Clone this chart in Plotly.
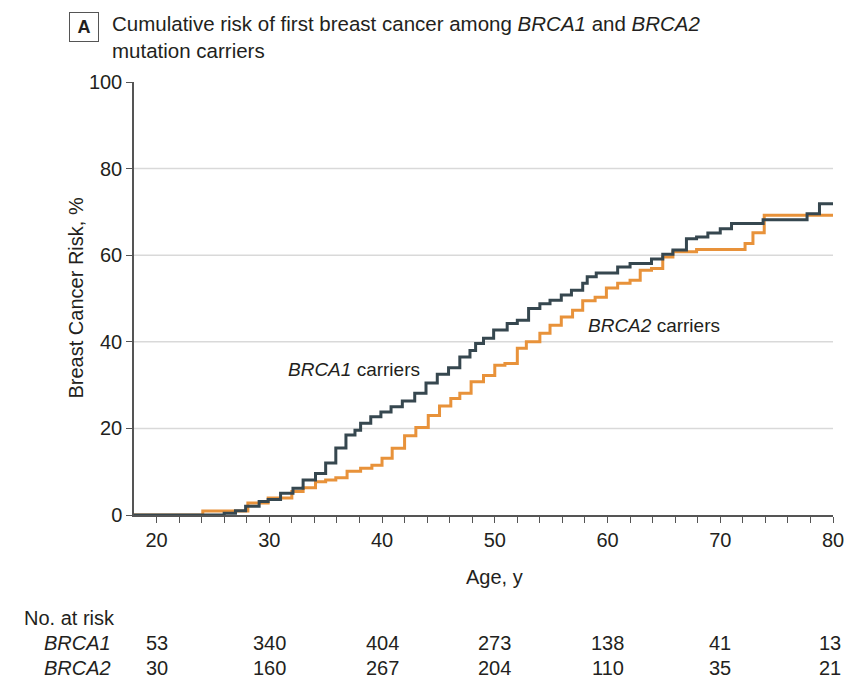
import plotly.graph_objects as go

# ---- data ----
brca1_age = [18, 26.0, 27.0, 27.9, 29.1, 29.9, 31.0, 32.1, 33.0, 34.1, 35.0, 35.9, 36.8, 37.6, 38.1,
             39.0, 39.9, 40.8, 41.8, 42.9, 43.9, 44.9, 45.9, 46.9, 47.8, 48.3, 49.0, 49.9, 51.1,
             52.0, 53.0, 54.0, 54.9, 55.9, 56.8, 57.8, 58.2, 59.0, 60.9, 62.0, 63.9, 64.9, 65.8,
             67.0, 67.9, 68.9, 70.0, 71.0, 73.8, 77.7, 78.8, 80]
brca1_risk = [0, 0.4, 1.0, 2.0, 3.1, 3.6, 5.0, 6.2, 8.1, 9.6, 12.0, 15.5, 18.5, 19.6, 21.2,
              22.7, 23.8, 25.0, 26.3, 28.1, 30.5, 32.5, 34.0, 36.5, 38.0, 39.6, 40.8, 42.7, 44.2,
              45.0, 47.7, 48.8, 49.6, 50.8, 51.9, 53.5, 55.0, 55.9, 57.3, 58.1, 59.1, 60.2, 61.2,
              63.8, 64.2, 65.1, 66.1, 67.3, 68.2, 69.6, 71.9, 71.9]

brca2_age = [18, 24.1, 28.1, 29.9, 32.0, 33.0, 34.1, 35.0, 35.9, 36.9, 38.1, 39.1, 40.0, 40.9,
             42.0, 43.0, 44.1, 45.1, 46.1, 46.9, 47.9, 49.0, 50.0, 50.9, 52.0, 52.8, 54.0, 54.9,
             55.9, 56.9, 57.8, 58.9, 59.9, 60.9, 62.0, 62.9, 63.9, 64.9, 65.8, 67.9, 72.2, 72.9,
             73.9, 80]
brca2_risk = [0, 0.9, 2.8, 3.9, 5.4, 6.3, 7.7, 8.1, 8.6, 10.1, 10.8, 11.5, 13.1, 15.4,
              18.3, 20.2, 23.0, 25.2, 26.9, 28.1, 30.8, 32.2, 34.6, 35.0, 38.5, 40.0, 42.0, 43.8,
              45.7, 47.3, 49.5, 50.3, 52.4, 53.5, 54.2, 56.5, 56.9, 59.6, 60.8, 61.3, 62.7, 65.2,
              69.2, 69.2]

risk_ages = [20, 30, 40, 50, 60, 70, 80]
brca1_at_risk = [53, 340, 404, 273, 138, 41, 13]
brca2_at_risk = [30, 160, 267, 204, 110, 35, 21]

x_tickvals = list(range(20, 81, 2))
x_ticktext = [str(v) if v % 10 == 0 else "" for v in x_tickvals]
y_tickvals = [0, 20, 40, 60, 80, 100]
grid_values = [20, 40, 60, 80]

# ---- style ----
FONT = "Liberation Sans, Arial, sans-serif"
TXT = "#231f20"
DARK = "#36474f"
ORANGE = "#e8923a"

fig = go.Figure()

for g in grid_values:
    fig.add_shape(type="line", xref="paper", yref="y", x0=0, x1=1, y0=g, y1=g,
                  line=dict(color="#d9d9d9", width=1.5), layer="below")

fig.add_trace(go.Scatter(x=brca2_age, y=brca2_risk, mode="lines", line=dict(color=ORANGE, width=3, shape="hv"),
                         name="BRCA2", showlegend=False))
fig.add_trace(go.Scatter(x=brca1_age, y=brca1_risk, mode="lines", line=dict(color=DARK, width=3, shape="hv"),
                         name="BRCA1", showlegend=False))

PW, PH, L, T0 = 699.0, 433.3, 134.0, 515.0


def px(xp):
    return (xp - L) / PW


def py(yp):
    return (T0 - yp) / PH


ann = []
# panel label + title
ann.append(dict(text="<b>A</b>", xref="paper", yref="paper", x=px(84), y=py(26.5),
                xanchor="center", yanchor="middle", showarrow=False, font=dict(size=18, color=TXT, family=FONT),
                bordercolor="#555555", borderwidth=1, borderpad=3, bgcolor="white", width=22, height=22))
ann.append(dict(text="Cumulative risk of first breast cancer among <i>BRCA1</i> and <i>BRCA2</i><br>mutation carriers",
                xref="paper", yref="paper", x=px(110), y=py(37), xanchor="left",
                yanchor="middle", align="left", showarrow=False, font=dict(size=20.5, color=TXT, family=FONT)))
# axis titles
ann.append(dict(text="Breast Cancer Risk, %", xref="paper", yref="paper", x=px(75), y=0.5,
                xanchor="center", yanchor="middle", textangle=-90, showarrow=False,
                font=dict(size=20, color=TXT, family=FONT)))
ann.append(dict(text="Age, y", xref="x", yref="paper", x=50, y=py(577),
                xanchor="center", yanchor="middle", showarrow=False, font=dict(size=20, color=TXT, family=FONT)))
# curve labels
ann.append(dict(text="<i>BRCA1</i> carriers", xref="x", yref="y", x=37.5, y=33.5, showarrow=False,
                xanchor="center", yanchor="middle", font=dict(size=19, color=TXT, family=FONT)))
ann.append(dict(text="<i>BRCA2</i> carriers", xref="x", yref="y", x=64.1, y=43.8, showarrow=False,
                xanchor="center", yanchor="middle", font=dict(size=19, color=TXT, family=FONT)))
# risk table
ann.append(dict(text="No. at risk", xref="paper", yref="paper", x=px(22), y=py(618),
                xanchor="left", yanchor="middle", showarrow=False, font=dict(size=20, color=TXT, family=FONT)))
for label, row, ypix in [("BRCA1", brca1_at_risk, 643), ("BRCA2", brca2_at_risk, 668)]:
    ann.append(dict(text=f"<i>{label}</i>", xref="paper", yref="paper", x=px(42), y=py(ypix),
                    xanchor="left", yanchor="middle", showarrow=False, font=dict(size=20, color=TXT, family=FONT)))
    for a, n in zip(risk_ages, row):
        ann.append(dict(text=str(n), xref="x", yref="paper", x=a - (0.3 if a == 80 else 0), y=py(ypix),
                        xanchor="center", yanchor="middle", showarrow=False,
                        font=dict(size=20, color=TXT, family=FONT)))

fig.update_layout(
    width=846, height=679,
    margin=dict(l=134, r=13, t=82, b=164, autoexpand=False),
    paper_bgcolor="white", plot_bgcolor="white",
    font=dict(family=FONT, color=TXT, size=20),
    annotations=ann,
    xaxis=dict(range=[18, 80], tickvals=x_tickvals, ticktext=x_ticktext, ticks="outside", ticklen=6,
               tickwidth=1.2, tickcolor="#555555", showline=True, linecolor="#555555", linewidth=1.5,
               showgrid=False, zeroline=False, automargin=False, tickfont=dict(size=20, color=TXT, family=FONT)),
    yaxis=dict(range=[0, 100], tickvals=y_tickvals, ticks="outside", ticklen=6, tickwidth=1.2,
               tickcolor="#555555", showline=True, linecolor="#555555", linewidth=1.5,
               showgrid=False, zeroline=False, automargin=False, tickfont=dict(size=20, color=TXT, family=FONT)),
)

fig.write_html("out.html")
